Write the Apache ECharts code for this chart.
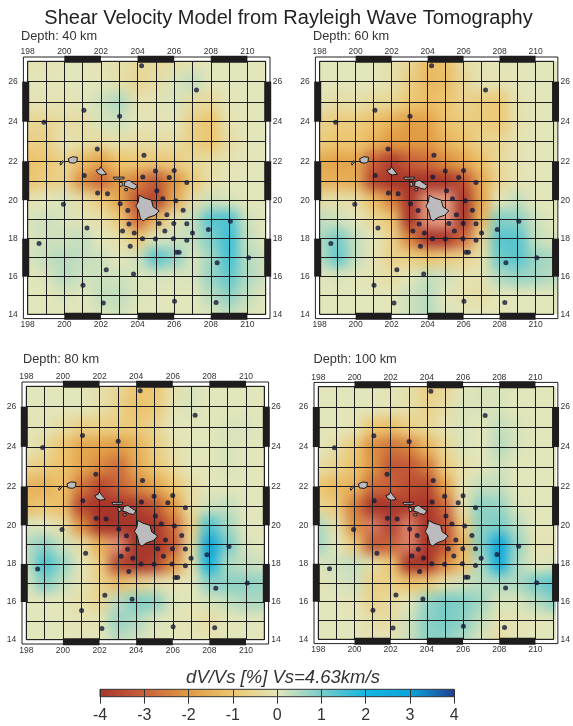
<!DOCTYPE html>
<html><head><meta charset="utf-8">
<style>html,body{margin:0;padding:0;background:#fff}#c{width:573px;height:726px}</style>
<script src="https://cdn.jsdelivr.net/npm/echarts@6/dist/echarts.min.js"></script>
</head><body><div id="c"></div>
<script>
const mainTitle = 'Shear Velocity Model from Rayleigh Wave Tomography';
const barTitle = 'dV/Vs [%] Vs=4.63km/s';
const depths = ['Depth: 40 km','Depth: 60 km','Depth: 80 km','Depth: 100 km'];
const lons = [198,199,200,201,202,203,204,205,206,207,208,209,210,211];
const lats = [27,26,25,24,23,22,21,20,19,18,17,16,15,14];
const evenLats = [14,16,18,20,22,24,26];
const lonBars = [[200,202],[204,206],[208,210]];
const latBars = [[16,18],[20,22],[24,26]];
// colours at -6..4
const scaleColors = ['#e6a88e','#d87a60','#a8352a','#c9613a','#e09a42','#edc670','#e3e5ba','#78ccc8','#14b6e0','#0aa4dc','#1f3f93'];

const dv40 = [
[-.1,-.1,0,0,-.1,-.2,-.4,-.4,-.3,-.1,0,0,0,0],
[0,0,0,0,0,-.2,-.5,-.3,.1,.3,0,0,0,0],
[-.1,-.1,-.1,0,.2,.5,-.1,-.1,.1,-.3,-.4,0,0,0],
[-.5,-.5,-.3,-.3,.1,.2,0,-.1,0,-.7,-1,-.1,0,0],
[-.7,-.7,-.1,-.3,-.3,-.2,-.3,-.3,-.3,-.7,-1,-.3,0,0],
[-1.1,-1,-.6,-1.2,-1.8,-1,-.9,-.9,-.8,-.5,-.3,-.1,0,0],
[-1,-.8,-.6,-2.2,-2.8,-1.9,-2.4,-3.2,-2.1,-.9,-.2,0,0,0],
[-.1,0,.1,-.3,-.8,-1.7,-3.3,-3.6,-1.7,-.3,.2,.1,0,0],
[.1,.2,.1,-.1,-.2,-.9,-2.8,-1.4,-.2,.3,1.3,1.4,.2,0],
[.1,.2,.2,.3,0,-.2,-.9,.1,.2,.3,.9,1.6,.3,0],
[.1,.3,.4,.3,.2,0,.2,1.3,.8,.1,.6,1.5,.4,.2],
[0,.1,.4,.2,.2,.2,.1,.1,.1,.1,.7,1.2,.5,.2],
[0,0,.1,0,.3,.3,.1,0,0,0,.4,.8,.3,0],
[0,0,0,0,.1,.2,0,0,0,0,.1,.3,.1,0]];
const dv60 = [
[0,0,0,0,-.2,-.5,-1.2,-1.1,-.3,-.1,0,0,0,0],
[0,0,0,0,-.2,-.7,-1.3,-1.2,-.5,-.1,-.1,0,0,0],
[-.1,-.3,-.2,-.4,-.5,-.9,-1.2,-1,-.6,-.8,-.9,-.1,0,0],
[-.6,-.8,-.8,-1.1,-1.5,-1.9,-1.8,-1.1,-.8,-.8,-.9,-.2,0,0],
[-.8,-1,-1,-1.4,-2,-2,-2,-1.4,-1.1,-.6,-.5,-.1,0,0],
[-1.6,-1.8,-1.7,-3,-3.8,-3,-2.8,-2.2,-1.7,-1.1,-.4,-.1,0,0],
[-1.5,-1.5,-1.6,-3.6,-4,-4,-4,-4,-3.3,-1.6,-.5,-.1,0,0],
[-.3,-.2,-.3,-1.2,-2.4,-4,-5.6,-5.8,-4,-1.7,0,.3,0,0],
[.3,.2,0,-.5,-1,-4,-5.6,-5.8,-4,-1.3,.9,.8,.2,0],
[.5,1,.3,0,-.6,-2.4,-4,-4,-2.8,-.5,1.3,1.3,.3,.1],
[.4,1.2,.3,-.1,-.6,-.7,-1,-.8,-.6,-.2,1.1,1.3,.7,.5],
[0,.1,0,-.1,-.3,0,.3,.2,-.1,-.1,.5,.7,.6,.4],
[0,0,0,0,0,.2,.4,0,-.2,-.3,0,0,0,0],
[0,0,0,0,0,.2,.4,.1,0,0,0,0,0,0]];
const dv80 = [
[0,0,0,0,-.2,-.5,-1,-1,-.2,.1,0,0,0,0],
[0,0,0,0,-.2,-.6,-1.1,-.9,-.1,.1,0,0,0,0],
[0,-.1,-.3,-.7,-.7,-.8,-.9,-.6,0,0,0,.1,.1,0],
[0,-.4,-1,-1.7,-1.8,-2,-1.5,-.8,-.2,0,0,.1,0,0],
[-.6,-.8,-1.1,-1.7,-2.3,-2.8,-1.7,-1,-.4,0,0,.1,0,0],
[-1.4,-1.5,-1.1,-2.6,-3.6,-3,-2.4,-1.8,-1,-.3,0,0,0,0],
[-1.2,-1,-1.2,-3.6,-4,-4,-3.8,-3.3,-2,-.3,.2,.3,0,0],
[.1,0,-.3,-2.2,-4,-4,-4,-4,-2.8,-.7,1.4,.6,0,0],
[.4,.8,.2,-.3,-1.5,-5.4,-4,-4,-3.2,-.4,3,1,.1,0],
[.3,1.5,.7,0,-.8,-3.6,-4,-3.7,-2.2,-.3,2.2,.5,.3,.2],
[.1,.9,.3,-.1,-.6,-1.2,-.7,-.3,-.1,0,.8,.8,.8,.7],
[0,0,0,-.2,-.5,.4,.9,.8,.1,0,.1,.3,.5,.5],
[0,0,0,-.1,-.1,.7,.5,.1,0,-.1,-.3,0,0,0],
[0,0,0,0,0,.4,.2,0,0,0,-.1,0,0,0]];
const dv100 = [
[0,0,0,0,0,-.2,-.7,-.5,0,.1,.1,0,0,0],
[0,0,0,0,-.1,-.2,-.6,-.3,.1,.1,.1,0,0,0],
[0,0,-.1,-1,-1.2,-.7,-.5,-.1,.1,0,.3,.1,0,0],
[0,-.3,-.9,-2.2,-2.7,-2.4,-1.4,-.5,.1,0,.4,.1,0,0],
[-.3,-.6,-1.1,-2.1,-3.2,-3.2,-2.6,-.8,-.2,0,.2,0,0,0],
[-1,-1.3,-1.4,-2.8,-3,-3.4,-3.6,-1.8,-.1,.3,.3,0,0,0],
[-.5,-.9,-2.5,-4,-4,-3.8,-4,-2.8,-.2,.8,.7,.1,0,0],
[.5,-.3,-2.2,-5,-4.2,-5.2,-4,-3.4,-.8,.8,1,.4,0,0],
[.6,0,-.9,-3.2,-3,-5.2,-4,-3.3,-1.4,.9,2.9,.7,-.1,-.1],
[.1,.2,.3,-.3,-1,-4,-4,-2.3,-1.1,.5,2.4,.5,0,.1],
[-.1,.1,.2,-.7,-.7,-1.1,-.9,-.2,.2,.4,.5,.5,1,1.3],
[0,0,-.1,-.6,-.4,0,.7,1,.9,.6,.1,.1,.4,.8],
[0,0,0,-.3,-.3,.2,.8,1,.8,.3,-.1,-.1,0,0],
[0,0,0,-.1,-.1,.2,.8,.8,.5,.1,-.3,0,0,0]];
const fields = [dv40,dv60,dv80,dv100];

const stationLon = [204.22,207.22,201.07,203.02,198.89,201.8,204.35,201.09,204.29,204.98,206.0,205.73,206.69,201.82,202.36,205.05,205.38,206.09,199.95,203.05,203.47,206.49,205.6,203.53,205.18,205.98,206.69,201.24,203.18,203.82,205.49,207.0,207.87,209.07,204.27,204.98,205.96,206.69,198.62,203.6,206.13,206.27,210.07,208.35,202.29,203.78,201.02,202.13,206.02,208.29];
const stationLat = [26.78,25.58,24.57,24.28,23.97,22.62,22.3,21.27,21.2,21.5,21.53,21.17,20.91,20.37,20.33,20.49,20.07,19.97,19.79,19.81,19.47,19.48,19.24,18.76,18.79,18.79,18.78,18.55,18.4,18.3,18.4,18.29,18.48,18.91,18.0,17.98,18.0,17.91,17.74,17.6,17.29,17.29,17.0,16.73,16.36,16.14,15.55,14.6,14.69,14.63];

const hawaii = [[204.09,20.26],[204.35,20.12],[204.76,20.0],[204.85,19.66],[205.18,19.45],[204.95,19.22],[204.58,19.1],[204.31,18.93],[204.16,19.05],[204.05,19.48],[203.91,19.69],[204.04,19.91]];
const maui = [[203.31,20.96],[203.55,21.02],[203.76,20.88],[204.0,20.75],[203.85,20.56],[203.62,20.61],[203.44,20.7],[203.27,20.72]];
const molokai = [[202.67,21.18],[203.27,21.19],[203.25,21.09],[202.85,21.09],[202.75,21.05]];
const lanai = [[203.0,20.93],[203.16,20.91],[203.18,20.74],[203.04,20.7]];
const kahoolawe = [[203.27,20.58],[203.45,20.61],[203.44,20.49],[203.31,20.49]];
const oahu = [[201.98,21.72],[202.22,21.44],[202.31,21.33],[202.04,21.3],[201.85,21.37],[201.73,21.54],[201.91,21.58]];
const kauai = [[200.22,22.13],[200.45,22.23],[200.71,22.2],[200.69,21.98],[200.53,21.9],[200.27,21.93]];
const niihau = [[199.76,21.9],[199.91,22.03],[199.95,21.98],[199.8,21.8]];
const islands = [hawaii,maui,molokai,lanai,kahoolawe,oahu,kauai,niihau];

const panels = [
 {l:27.7,r:265.7,t:61.3,b:314.3,tx:21,ty:29.5},
 {l:319.7,r:557.3,t:61.3,b:314.3,tx:313,ty:29.5},
 {l:26.3,r:264.3,t:386.3,b:639.7,tx:23,ty:353},
 {l:318.3,r:556,t:386.7,b:639.3,tx:313.5,ty:353}];
const W=573,H=726, FONT='"Liberation Sans",Arial,sans-serif', INK='#222', TXT='#333';
const BLUR=6, EDGE=1.2;

const merc = d => Math.log(Math.tan(Math.PI/4 + d*Math.PI/360))*180/Math.PI;
const imerc = y => (2*Math.atan(Math.exp(y*Math.PI/180))-Math.PI/2)*180/Math.PI;
const LON0=lons[0], LON1=lons[lons.length-1], LAT0=lats[lats.length-1], LAT1=lats[0];

const grids=[],xAxes=[],yAxes=[],series=[],titles=[];
titles.push({text:mainTitle,left:W/2+2,textAlign:'center',top:8,padding:0,zlevel:1,textStyle:{fontFamily:FONT,fontSize:20,fontWeight:'normal',color:INK}});
titles.push({text:barTitle,left:283,textAlign:'center',top:668.5,padding:0,zlevel:1,textStyle:{fontFamily:FONT,fontSize:18.5,fontStyle:'italic',fontWeight:'normal',color:'#333'}});
const lbl={fontFamily:FONT,fontSize:8.5,color:TXT};
panels.forEach((p,i)=>{
  titles.push({text:depths[i],left:p.tx,top:p.ty,padding:0,zlevel:1,textStyle:{fontFamily:FONT,fontSize:12.8,fontWeight:'normal',color:TXT}});
  grids.push({left:p.l,top:p.t,width:p.r-p.l,height:p.b-p.t,show:false,containLabel:false});
  ['bottom','top'].forEach((pos,k)=>{
    xAxes.push({gridIndex:i,type:'value',position:pos,min:LON0,max:LON1,interval:1,zlevel:1,z:2,
      axisLine:{show:false},axisTick:{show:false},
      splitLine:{show:k===0,lineStyle:{color:'#1c1c1c',width:1}},
      axisLabel:{...lbl,margin:pos==='bottom'?6:5,showMinLabel:true,showMaxLabel:false,formatter:v=>(v%2===0&&v<LON1)?String(v):''}});
  });
  ['left','right'].forEach((pos,k)=>{
    yAxes.push({gridIndex:i,type:'value',position:pos,min:merc(LAT0),max:merc(LAT1),zlevel:1,z:2,
      axisLine:{show:false},
      axisTick:{show:false,customValues:lats.map(merc)},
      splitLine:{show:k===0,lineStyle:{color:'#1c1c1c',width:1}},
      axisLabel:{...lbl,margin:pos==='left'?10:7,customValues:evenLats.map(merc),formatter:v=>String(Math.round(imerc(v)))}});
  });
});
// colorbar grid
grids.push({left:100,top:689.3,width:354.3,height:7.4,show:false});
xAxes.push({gridIndex:4,type:'value',position:'bottom',min:-4,max:4,interval:1,zlevel:1,z:5,
  axisLine:{show:false},axisTick:{length:7,lineStyle:{color:'#333',width:1}},
  splitLine:{show:true,lineStyle:{color:'#333',width:1}},
  axisLabel:{fontFamily:FONT,fontSize:16,color:'#333',margin:11,formatter:v=>String(v)}});
yAxes.push({gridIndex:4,type:'value',min:0,max:1,show:false,zlevel:1});

// heat layers, drawn through the axis scales
fields.forEach((f,i)=>{
  const data=[];
  lats.forEach((la,r)=>lons.forEach((lo,c)=>{
    data.push([lo,merc(la),f[r][c],
      merc(la===LAT1?la+EDGE:la+.5), merc(la===LAT0?la-EDGE:la-.5),
      lo===LON0?lo-EDGE:lo-.5, lo===LON1?lo+EDGE:lo+.5]);
  }));
  series.push({name:'dv'+i,type:'custom',coordinateSystem:'cartesian2d',xAxisIndex:i*2,yAxisIndex:i*2,zlevel:0,clip:false,silent:true,
    encode:{x:0,y:1},data,
    renderItem:(ps,api)=>{
      const a=api.coord([api.value(5),api.value(3)]),b=api.coord([api.value(6),api.value(4)]);
      return {type:'rect',shape:{x:a[0],y:a[1],width:b[0]-a[0]+1,height:b[1]-a[1]+1},style:{fill:api.visual('color')}};
    }});
});
const HEATS=[0,1,2,3];
panels.forEach((p,i)=>{
  const ax=i*2;
  // islands
  series.push({type:'custom',coordinateSystem:'cartesian2d',xAxisIndex:ax,yAxisIndex:ax,zlevel:1,z:4,silent:true,clip:false,encode:{x:0,y:1},
    data:islands.map((_,k)=>[islands[k][0][0],merc(islands[k][0][1]),k]),
    renderItem:(ps,api)=>{
      const pts=islands[api.value(2)].map(q=>api.coord([q[0],merc(q[1])]));
      return {type:'polygon',shape:{points:pts},style:{fill:'#bcbcbe',stroke:'#1a1a1a',lineWidth:1}};
    }});
  // stations
  series.push({type:'scatter',xAxisIndex:ax,yAxisIndex:ax,zlevel:1,z:5,silent:true,symbolSize:5,
    itemStyle:{color:'#161c3a'},data:stationLon.map((lo,k)=>[lo,merc(stationLat[k])])});
  // frame: bars and outer border
  series.push({type:'custom',coordinateSystem:'cartesian2d',xAxisIndex:ax,yAxisIndex:ax,zlevel:1,z:6,silent:true,clip:false,encode:{x:0,y:1},
    data:[[LON0,merc(LAT0)]],
    renderItem:(ps,api)=>{
      const tl=api.coord([LON0,merc(LAT1)]),br=api.coord([LON1,merc(LAT0)]);
      const o=4.3, kids=[];
      const L=tl[0],T=tl[1],R=br[0],B=br[1];
      kids.push({type:'rect',shape:{x:L-o,y:T-o,width:R-L+2*o,height:B-T+2*o},style:{fill:'none',stroke:'#222',lineWidth:1}});
      kids.push({type:'rect',shape:{x:L,y:T,width:R-L,height:B-T},style:{fill:'none',stroke:'#222',lineWidth:1}});
      lonBars.forEach(b=>{
        const x0=api.coord([b[0],merc(LAT0)])[0],x1=api.coord([b[1],merc(LAT0)])[0];
        kids.push({type:'rect',shape:{x:x0,y:T-5.5,width:x1-x0,height:7},style:{fill:'#1e1c1c'}});
        kids.push({type:'rect',shape:{x:x0,y:B-1.5,width:x1-x0,height:7},style:{fill:'#1e1c1c'}});
      });
      latBars.forEach(b=>{
        const y0=api.coord([LON0,merc(b[1])])[1],y1=api.coord([LON0,merc(b[0])])[1];
        kids.push({type:'rect',shape:{x:L-5.5,y:y0,width:7,height:y1-y0},style:{fill:'#1e1c1c'}});
        kids.push({type:'rect',shape:{x:R-1.5,y:y0,width:7,height:y1-y0},style:{fill:'#1e1c1c'}});
      });
      return {type:'group',children:kids};
    }});
});
// colour bar
const barStops=scaleColors.slice(2);
series.push({type:'custom',coordinateSystem:'cartesian2d',xAxisIndex:8,yAxisIndex:8,zlevel:1,z:3,silent:true,clip:false,encode:{x:0,y:1},
  data:[[-4,0,4,1]],
  renderItem:(ps,api)=>{
    const a=api.coord([api.value(0),api.value(3)]),b=api.coord([api.value(2),api.value(1)]);
    return {type:'rect',shape:{x:a[0],y:a[1],width:b[0]-a[0],height:b[1]-a[1]},
      style:{stroke:'#333',lineWidth:1,fill:new echarts.graphic.LinearGradient(0,0,1,0,barStops.map((c,k)=>({offset:k/(barStops.length-1),color:c})))}};
  }});

const chart=echarts.init(document.getElementById('c'),null,{width:W,height:H,renderer:'canvas'});
chart.setOption({animation:false,backgroundColor:'#fff',title:titles,grid:grids,xAxis:xAxes,yAxis:yAxes,
  visualMap:{show:false,type:'continuous',min:-6,max:4,dimension:2,seriesIndex:HEATS,inRange:{color:scaleColors}},
  series});
// soften the heat layer only, clipped to the four map frames
const heatCanvas=chart.getDom().querySelectorAll('canvas')[0];
heatCanvas.style.filter='blur('+BLUR+'px)';
const clip=panels.map(p=>`M${p.l} ${p.t}H${p.r}V${p.b}H${p.l}Z`).join('');
heatCanvas.style.clipPath=`path('${clip}')`;
</script></body></html>
